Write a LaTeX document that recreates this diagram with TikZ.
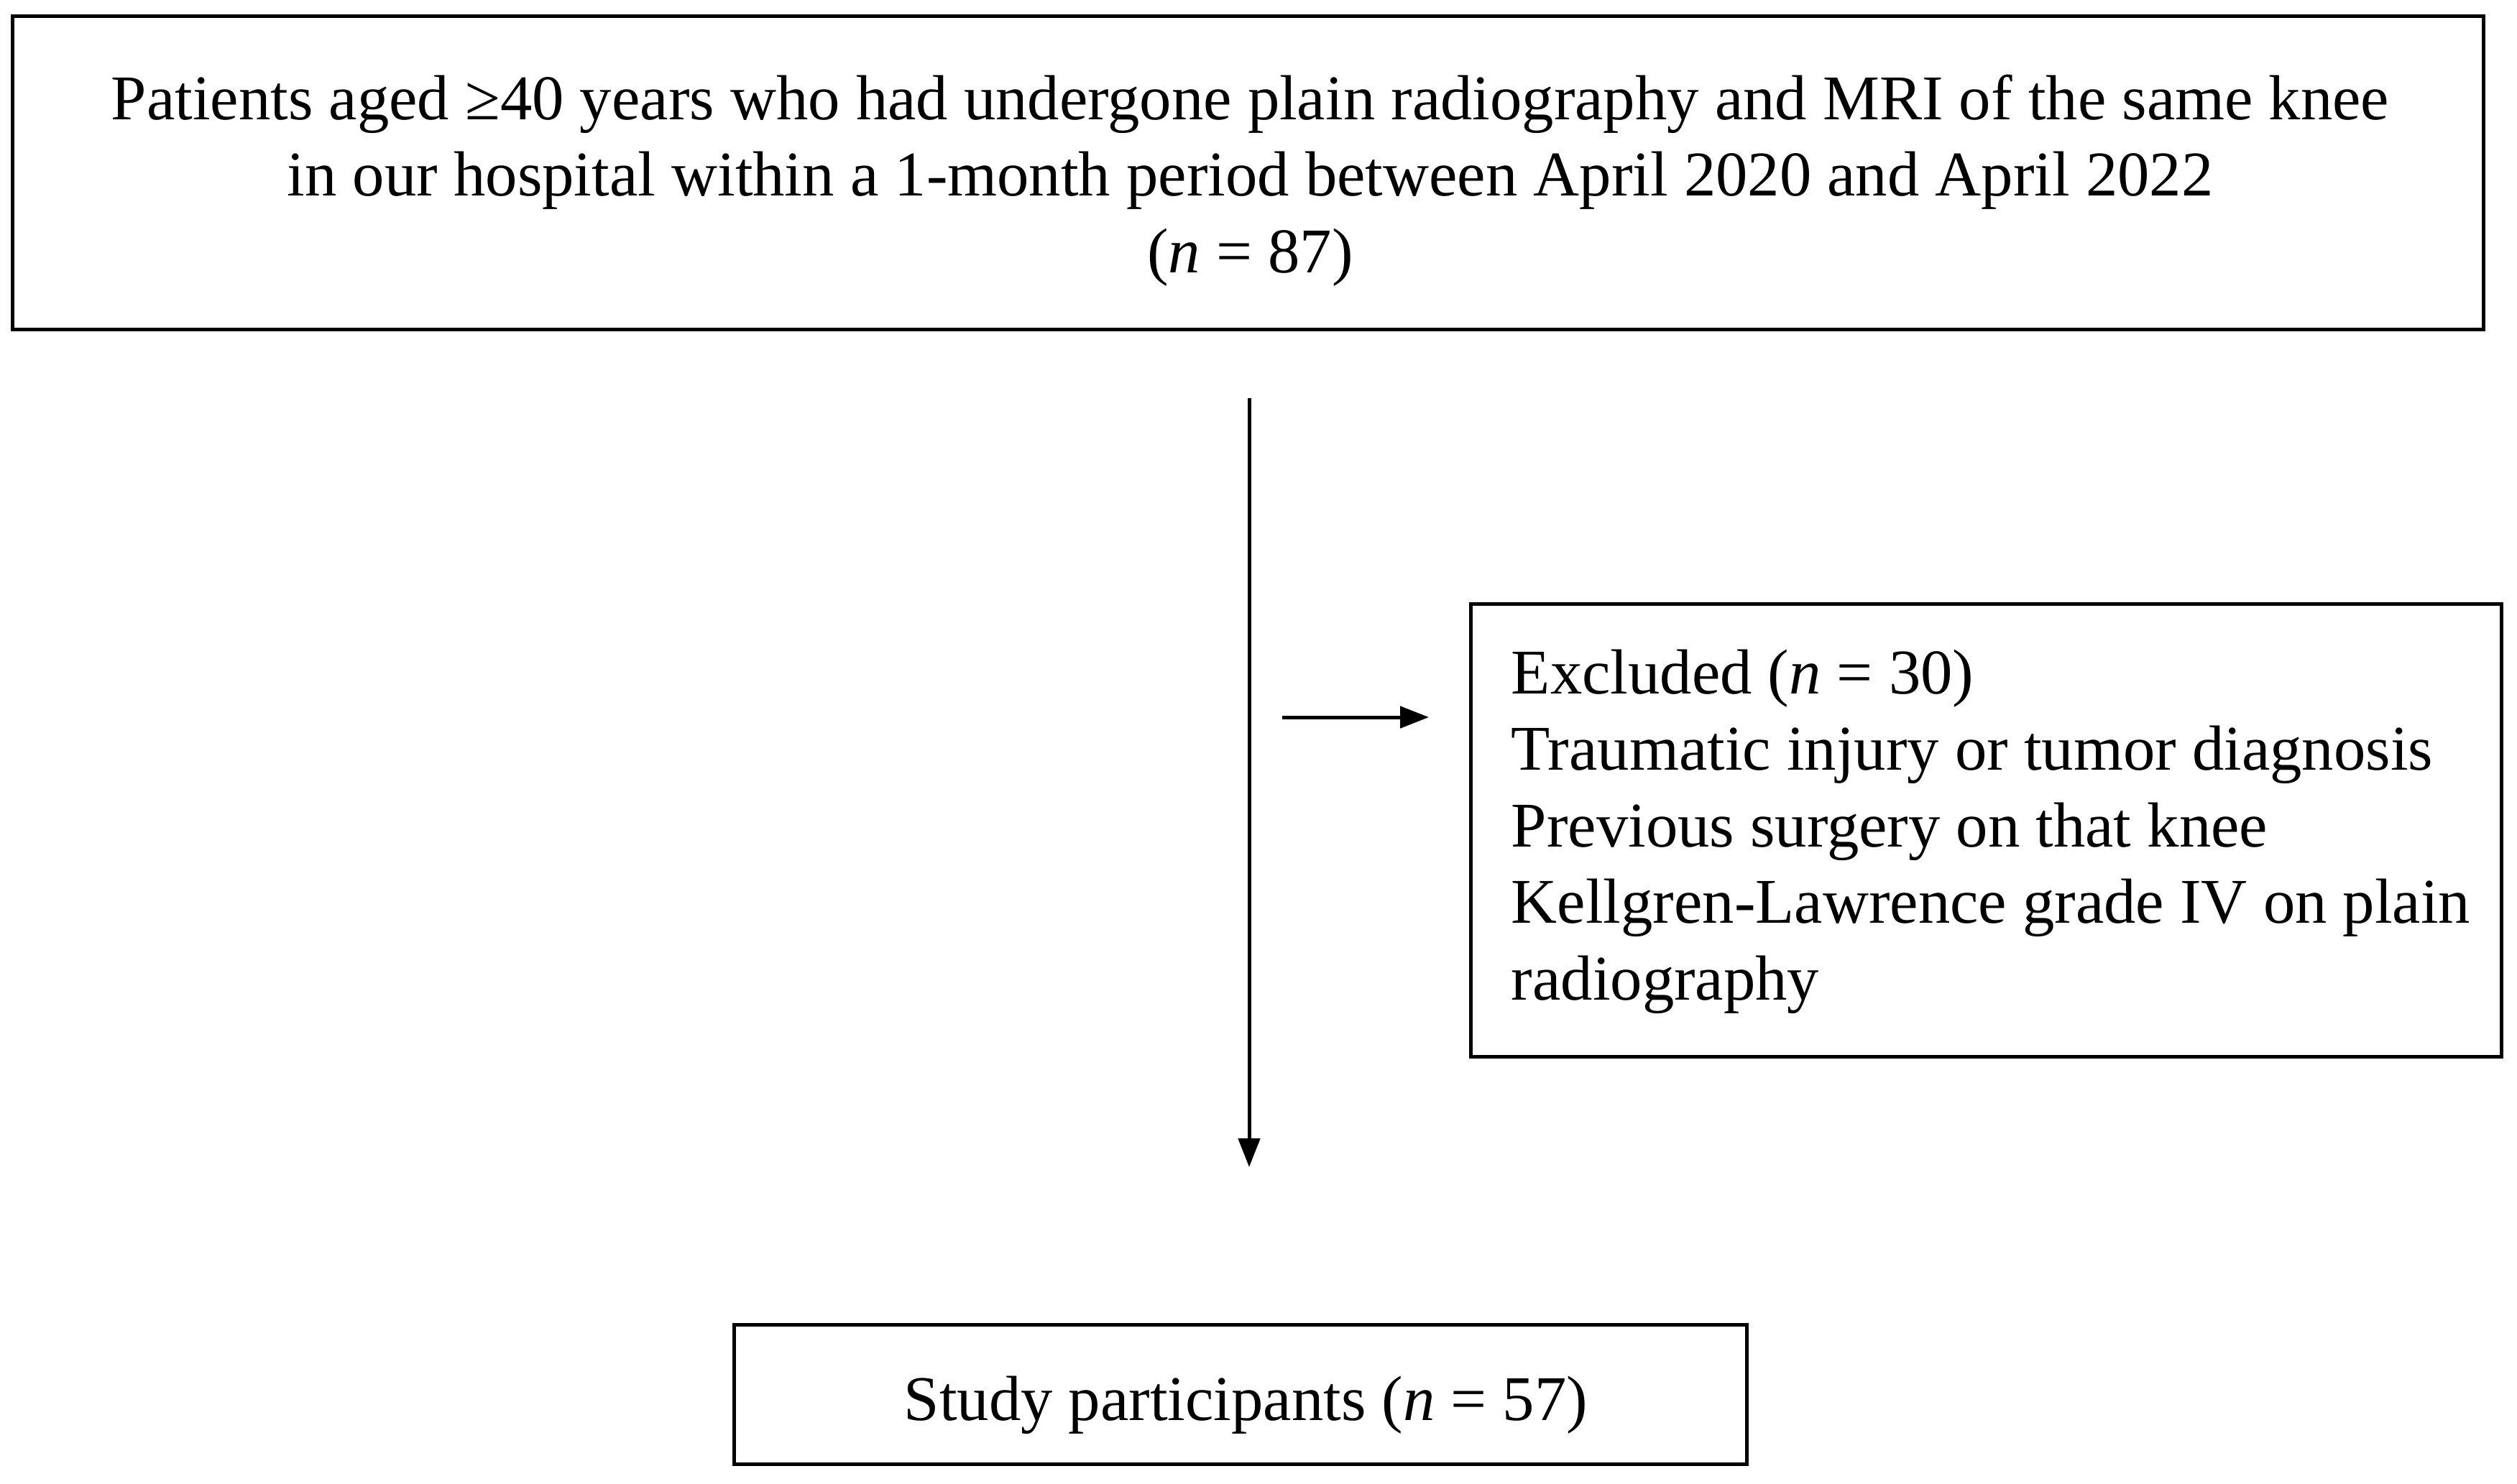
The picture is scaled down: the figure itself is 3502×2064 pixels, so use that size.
\documentclass[tikz,border=0pt]{standalone}
\usepackage{fontspec}
\setmainfont{Liberation Serif}
\usetikzlibrary{arrows.meta}
\begin{document}
\begin{tikzpicture}[x=1bp,y=-1bp,
  box/.style={draw=black, line width=5bp, inner sep=0pt},
  txt/.style={inner sep=0pt, font=\fontsize{89}{107}\selectfont},
  conn/.style={line width=5bp, -{Triangle[length=40bp,width=30bp]}}]
\useasboundingbox (0,0) rectangle (3502,2064);
% boxes
\node[box, minimum width=3437bp, minimum height=436bp] (top) at (1736.5,240) {};
\node[box, minimum width=1434bp, minimum height=630bp] (excl) at (2763,1155) {};
\node[box, minimum width=1409bp, minimum height=194bp] (study) at (1725.5,1940) {};
% texts
\node[txt, align=center] (toptext) at (1739.5,251)
  {Patients aged \mbox{≥}40 years who had undergone plain radiography and MRI of the same knee\\
   in our hospital within a 1-month period between April 2020 and April 2022\\
   (\textit{n} = 87)};
\node[txt, align=left] (excltext) at (2770,1157)
  {Excluded (\textit{n} = 30)\\
   Traumatic injury or tumor diagnosis\\
   Previous surgery on that knee\\
   Kellgren-Lawrence grade IV on plain\\
   radiography};
\node[txt] (studytext) at (1733.5,1955) {Study participants (\textit{n} = 57)};
% connectors
\coordinate (v1) at (1738,554);
\coordinate (v2) at (1738,1624);
\coordinate (h1) at (1784,998);
\coordinate (h2) at (1988,998);
\draw[conn] (v1) -- (v2);
\draw[conn] (h1) -- (h2);
\end{tikzpicture}
\end{document}
